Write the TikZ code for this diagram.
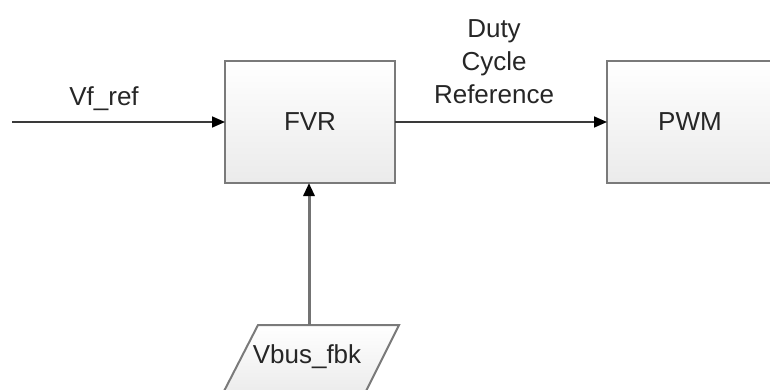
\documentclass[tikz,border=0pt]{standalone}
\usepackage{fontspec}
\setmainfont{Liberation Sans}
\usetikzlibrary{arrows.meta}
\definecolor{boxline}{HTML}{7A7A7A}
\definecolor{lineclr}{HTML}{3A3A3A}
\tikzset{
  blockbox/.style={draw=boxline, line width=2pt, top color=white, bottom color=black!8, inner sep=0pt},
  sig/.style={draw=lineclr, line width=1.6pt, -{Triangle[length=13pt,width=11pt,color=black]}},
  lbl/.style={font=\fontsize{26}{33}\selectfont, text=black!85, align=center, inner sep=0pt},
}
\begin{document}
\begin{tikzpicture}[x=1pt,y=-1pt]
\useasboundingbox (0,0) rectangle (770,390);
\path[blockbox] (225,61) rectangle (395,183);
\node[lbl] (fvr) at (310,122) {FVR};
\path[blockbox] (607,61) rectangle (790,183);
\node[lbl] (pwm) at (690,122) {PWM};
\coordinate (fvrW) at (225,122);
\coordinate (fvrE) at (395,122);
\coordinate (fvrS) at (309,183);
\coordinate (pwmW) at (607,122);
\coordinate (start) at (12,122);
\draw[sig] (start) -- (fvrW);
\draw[sig] (fvrE) -- (pwmW);
\node[lbl] (vfref) at (104,99) {Vf\_ref};
\node[lbl] (duty) at (494,62) {Duty\\Cycle\\Reference};
% parallelogram
\path[draw=boxline, line width=2pt, top color=white, bottom color=black!8]
  (258,325) -- (399,325) -- (363,397) -- (221,397) -- cycle;
\coordinate (vbusN) at (309,325);
\node[lbl] (vbus) at (307,357) {Vbus\_fbk};
\draw[sig, draw=black!55, line width=3pt] (vbusN) -- (fvrS);
\end{tikzpicture}
\end{document}
